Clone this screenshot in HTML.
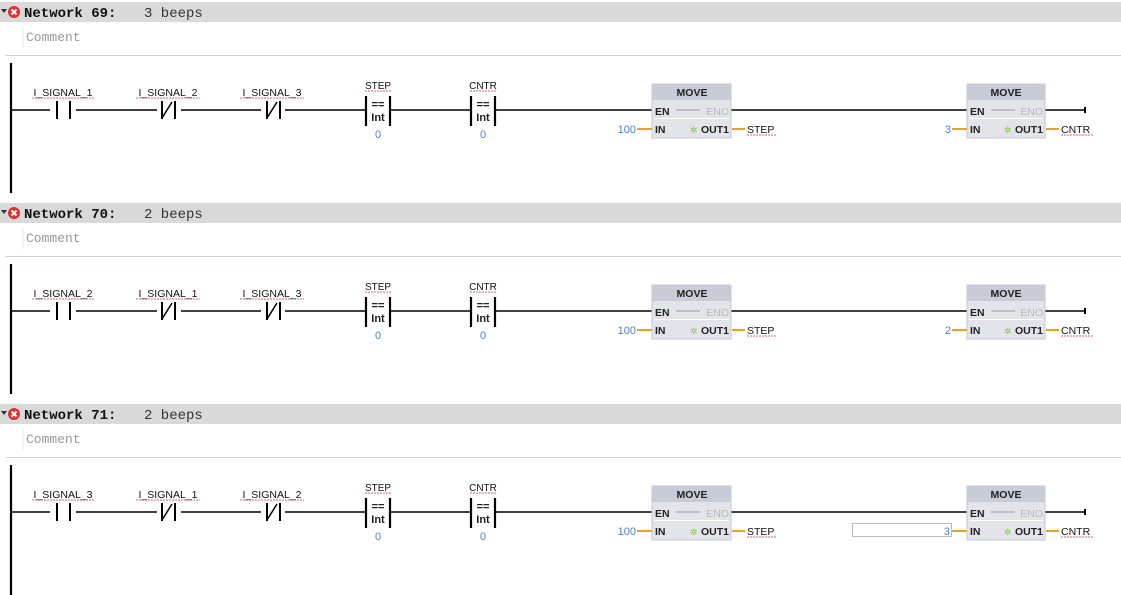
<!DOCTYPE html>
<html><head><meta charset="utf-8"><style>
html,body{margin:0;padding:0;background:#fff;width:1121px;height:595px;overflow:hidden}
svg{display:block}
.mono{font-family:"Liberation Mono",monospace}
.s{font-family:"Liberation Sans",sans-serif}
</style></head><body>
<svg width="1121" height="595" xmlns="http://www.w3.org/2000/svg">
<defs>
<g id="net">
  <rect x="0" y="2" width="1121" height="20" fill="#d9d9d9"/>
  <path d="M1 9 L7 9 L4 13 Z" fill="#333"/>
  <circle cx="14" cy="12" r="6" fill="#e03030"/>
  <path d="M11.5 9.5 L16.5 14.5 M16.5 9.5 L11.5 14.5" stroke="#fff" stroke-width="2"/>
  <line x1="23" y1="27" x2="23" y2="48" stroke="#e4e4e4"/>
  <line x1="6" y1="55.5" x2="1121" y2="55.5" stroke="#cfd0e6"/>
  <line x1="11" y1="63" x2="11" y2="193" stroke="#000" stroke-width="2.2"/>
  <line x1="11" y1="110" x2="652" y2="110" stroke="#000" stroke-width="1.5"/>
  <line x1="731" y1="110" x2="967" y2="110" stroke="#000" stroke-width="1.5"/>
  <line x1="1045" y1="110" x2="1085" y2="110" stroke="#000" stroke-width="1.5"/>
  <line x1="1085" y1="107" x2="1085" y2="113" stroke="#000" stroke-width="2"/>
  <!-- contacts -->
  <rect x="50" y="100" width="26" height="20" fill="#fff"/>
  <line x1="57" y1="101" x2="57" y2="119" stroke="#000" stroke-width="2"/>
  <line x1="70" y1="101" x2="70" y2="119" stroke="#000" stroke-width="2"/>
  <rect x="157" y="100" width="24" height="20" fill="#fff"/>
  <line x1="162" y1="101" x2="162" y2="119" stroke="#000" stroke-width="2"/>
  <line x1="175" y1="101" x2="175" y2="119" stroke="#000" stroke-width="2"/>
  <line x1="162" y1="118" x2="172" y2="102" stroke="#000" stroke-width="1.5"/>
  <rect x="261" y="100" width="24" height="20" fill="#fff"/>
  <line x1="267" y1="101" x2="267" y2="119" stroke="#000" stroke-width="2"/>
  <line x1="280" y1="101" x2="280" y2="119" stroke="#000" stroke-width="2"/>
  <line x1="267" y1="118" x2="277" y2="102" stroke="#000" stroke-width="1.5"/>
  <!-- compares -->
  <rect x="366" y="96" width="25" height="30" fill="#fff"/>
  <line x1="366" y1="96" x2="366" y2="126" stroke="#000" stroke-width="2.2"/>
  <line x1="390" y1="96" x2="390" y2="126" stroke="#000" stroke-width="2.2"/>
  <text x="378" y="108" class="s" font-size="11" font-weight="bold" text-anchor="middle" fill="#222">==</text>
  <text x="378" y="121" class="s" font-size="11" font-weight="bold" text-anchor="middle" fill="#222">Int</text>
  <text x="378" y="89" class="s" font-size="10" text-anchor="middle" fill="#111">STEP</text>
  <line x1="365" y1="91" x2="391" y2="91" stroke="#e06070" stroke-width="1" stroke-dasharray="2 1"/>
  <text x="378" y="138" class="s" font-size="11" text-anchor="middle" fill="#4a7fd6">0</text>
  <rect x="471" y="96" width="25" height="30" fill="#fff"/>
  <line x1="471" y1="96" x2="471" y2="126" stroke="#000" stroke-width="2.2"/>
  <line x1="495" y1="96" x2="495" y2="126" stroke="#000" stroke-width="2.2"/>
  <text x="483" y="108" class="s" font-size="11" font-weight="bold" text-anchor="middle" fill="#222">==</text>
  <text x="483" y="121" class="s" font-size="11" font-weight="bold" text-anchor="middle" fill="#222">Int</text>
  <text x="483" y="89" class="s" font-size="10" text-anchor="middle" fill="#111">CNTR</text>
  <line x1="470" y1="91" x2="496" y2="91" stroke="#e06070" stroke-width="1" stroke-dasharray="2 1"/>
  <text x="483" y="138" class="s" font-size="11" text-anchor="middle" fill="#4a7fd6">0</text>
  <!-- MOVE 1 -->
  <rect x="652" y="84" width="79" height="54" fill="#e3e4ea" stroke="#c4c6d0"/>
  <rect x="652" y="84" width="79" height="16" fill="#c9cbd6"/>
  <text x="692" y="96" class="s" font-size="10.5" font-weight="bold" text-anchor="middle" fill="#222">MOVE</text>
  <line x1="654" y1="118.5" x2="729" y2="118.5" stroke="#fff"/>
  <text x="655" y="115" class="s" font-size="10.5" font-weight="bold" fill="#222">EN</text>
  <line x1="676" y1="110" x2="700" y2="110" stroke="#999"/>
  <text x="729" y="115" class="s" font-size="10.5" text-anchor="end" fill="#b8b8c0">ENO</text>
  <text x="655" y="133" class="s" font-size="10.5" font-weight="bold" fill="#222">IN</text>
  <text x="690" y="133" class="s" font-size="9" fill="#8bc34a">✲</text>
  <text x="729" y="133" class="s" font-size="10.5" font-weight="bold" text-anchor="end" fill="#222">OUT1</text>
  <line x1="637" y1="129" x2="652" y2="129" stroke="#f0a020" stroke-width="2"/>
  <text x="636" y="133" class="s" font-size="11" text-anchor="end" fill="#4a7fd6">100</text>
  <line x1="732" y1="129" x2="745" y2="129" stroke="#f0a020" stroke-width="2"/>
  <text x="747" y="133" class="s" font-size="10.5" fill="#111">STEP</text>
  <line x1="747" y1="135" x2="776" y2="135" stroke="#e06070" stroke-dasharray="2 1"/>
  <!-- MOVE 2 -->
  <rect x="967" y="84" width="78" height="54" fill="#e3e4ea" stroke="#c4c6d0"/>
  <rect x="967" y="84" width="78" height="16" fill="#c9cbd6"/>
  <text x="1006" y="96" class="s" font-size="10.5" font-weight="bold" text-anchor="middle" fill="#222">MOVE</text>
  <line x1="969" y1="118.5" x2="1043" y2="118.5" stroke="#fff"/>
  <text x="970" y="115" class="s" font-size="10.5" font-weight="bold" fill="#222">EN</text>
  <line x1="991" y1="110" x2="1015" y2="110" stroke="#999"/>
  <text x="1043" y="115" class="s" font-size="10.5" text-anchor="end" fill="#b8b8c0">ENO</text>
  <text x="970" y="133" class="s" font-size="10.5" font-weight="bold" fill="#222">IN</text>
  <text x="1004" y="133" class="s" font-size="9" fill="#8bc34a">✲</text>
  <text x="1043" y="133" class="s" font-size="10.5" font-weight="bold" text-anchor="end" fill="#222">OUT1</text>
  <line x1="952" y1="129" x2="967" y2="129" stroke="#f0a020" stroke-width="2"/>
  <line x1="1046" y1="129" x2="1059" y2="129" stroke="#f0a020" stroke-width="2"/>
  <text x="1061" y="133" class="s" font-size="10.5" fill="#111">CNTR</text>
  <line x1="1061" y1="135" x2="1094" y2="135" stroke="#e06070" stroke-dasharray="2 1"/>
</g>
<g id="lbl">
  <line x1="32" y1="98" x2="95" y2="98" stroke="#e06070" stroke-dasharray="2 1"/>
  <line x1="136" y1="98" x2="200" y2="98" stroke="#e06070" stroke-dasharray="2 1"/>
  <line x1="240" y1="98" x2="304" y2="98" stroke="#e06070" stroke-dasharray="2 1"/>
</g>
</defs>

<use href="#net" x="0" y="0"/>
<use href="#lbl" x="0" y="0"/>
<text x="24" y="17" class="mono" font-size="14" font-weight="bold" fill="#111">Network 69:</text>
<text x="144" y="17" class="mono" font-size="14" fill="#333">3 beeps</text>
<text x="26" y="41" class="mono" font-size="13" fill="#999">Comment</text>
<text x="63" y="96" class="s" font-size="10.5" text-anchor="middle" fill="#111">I_SIGNAL_1</text>
<text x="168" y="96" class="s" font-size="10.5" text-anchor="middle" fill="#111">I_SIGNAL_2</text>
<text x="272" y="96" class="s" font-size="10.5" text-anchor="middle" fill="#111">I_SIGNAL_3</text>
<text x="951" y="133" class="s" font-size="11" text-anchor="end" fill="#4a7fd6">3</text>

<use href="#net" x="0" y="201"/>
<use href="#lbl" x="0" y="201"/>
<text x="24" y="218" class="mono" font-size="14" font-weight="bold" fill="#111">Network 70:</text>
<text x="144" y="218" class="mono" font-size="14" fill="#333">2 beeps</text>
<text x="26" y="242" class="mono" font-size="13" fill="#999">Comment</text>
<text x="63" y="297" class="s" font-size="10.5" text-anchor="middle" fill="#111">I_SIGNAL_2</text>
<text x="168" y="297" class="s" font-size="10.5" text-anchor="middle" fill="#111">I_SIGNAL_1</text>
<text x="272" y="297" class="s" font-size="10.5" text-anchor="middle" fill="#111">I_SIGNAL_3</text>
<text x="951" y="334" class="s" font-size="11" text-anchor="end" fill="#4a7fd6">2</text>

<use href="#net" x="0" y="402"/>
<use href="#lbl" x="0" y="402"/>
<text x="24" y="419" class="mono" font-size="14" font-weight="bold" fill="#111">Network 71:</text>
<text x="144" y="419" class="mono" font-size="14" fill="#333">2 beeps</text>
<text x="26" y="443" class="mono" font-size="13" fill="#999">Comment</text>
<text x="63" y="498" class="s" font-size="10.5" text-anchor="middle" fill="#111">I_SIGNAL_3</text>
<text x="168" y="498" class="s" font-size="10.5" text-anchor="middle" fill="#111">I_SIGNAL_1</text>
<text x="272" y="498" class="s" font-size="10.5" text-anchor="middle" fill="#111">I_SIGNAL_2</text>
<rect x="852.5" y="523.5" width="99" height="13" fill="#fff" stroke="#777" stroke-dasharray="1 1"/>
<text x="950" y="535" class="s" font-size="11" text-anchor="end" fill="#4a7fd6">3</text>
</svg>
</body></html>
